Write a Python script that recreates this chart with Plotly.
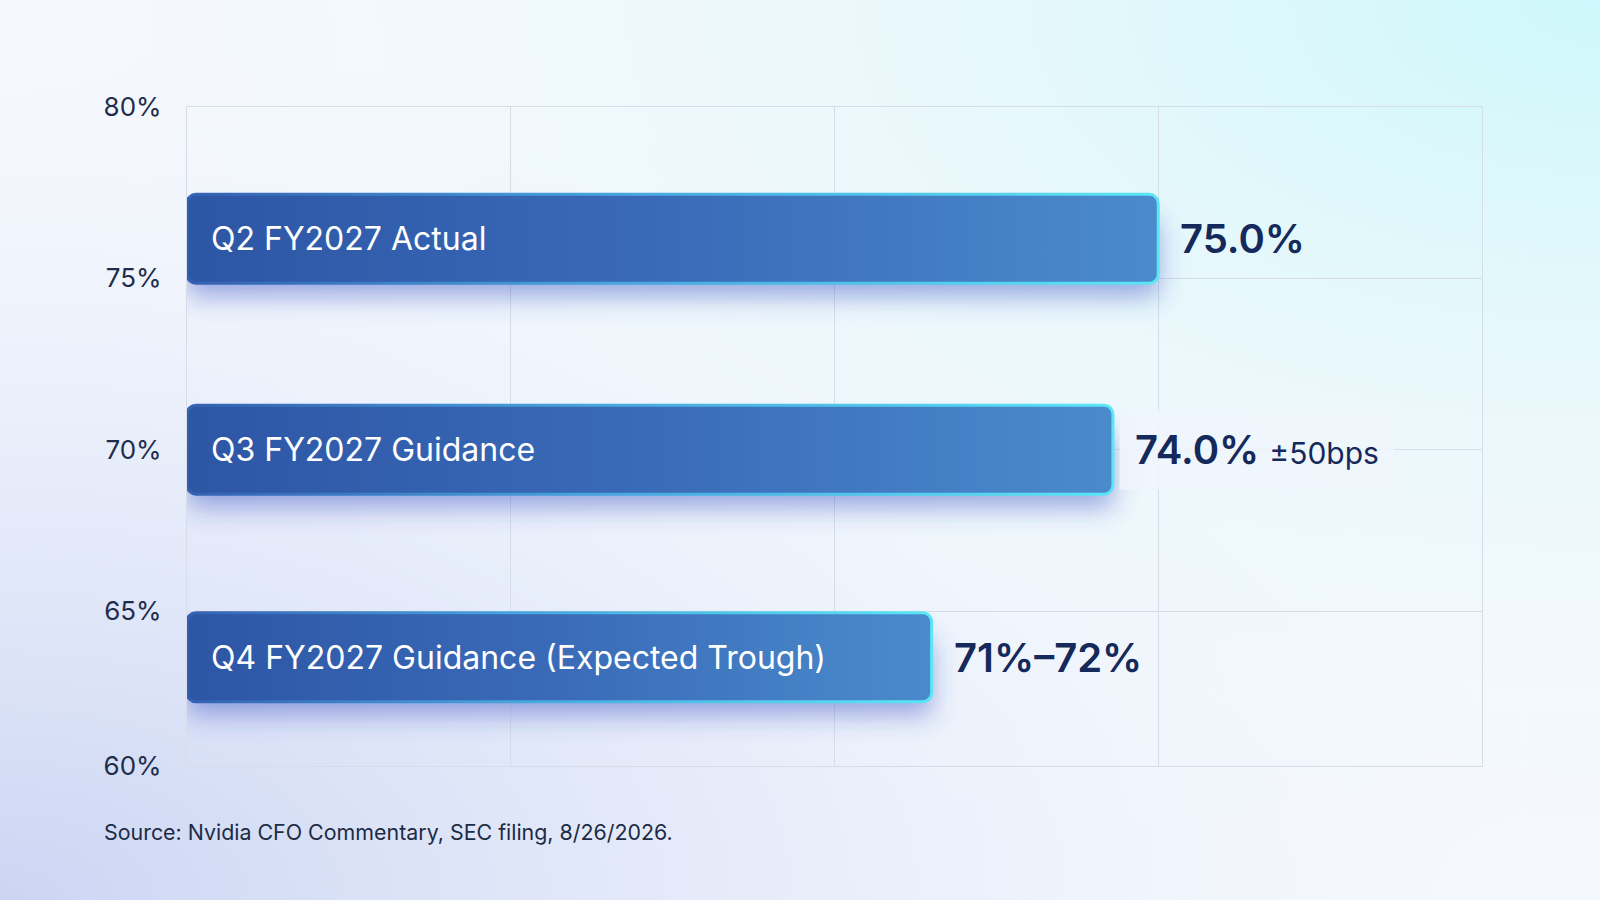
import base64
import plotly.graph_objects as go

# data
labels = ["Q2 FY2027 Actual", "Q3 FY2027 Guidance", "Q4 FY2027 Guidance (Expected Trough)"]
values = [75.0, 74.3, 71.5]
value_text = ["75.0%", "74.0%", "71%–72%"]
value_note = ["", "±50bps", ""]
bar_pos = [76.0, 69.6, 63.3]
tick_pos = [60, 64.7, 69.6, 74.8, 80]
tick_text = ["60%", "65%", "70%", "75%", "80%"]
source = "Source: Nvidia CFO Commentary, SEC filing, 8/26/2026."

W, H = 1600, 900
L, R, T, B = 187, 118, 107, 134
pw, ph = W - L - R, H - T - B
bar_w = 2.7

NAVY = "#15295a"
FONT = "Inter"

bg_svg = f"""<svg xmlns='http://www.w3.org/2000/svg' width='{W}' height='{H}' preserveAspectRatio='none'>
<defs>
<radialGradient id='a' cx='0' cy='1' r='0.95'>
<stop offset='0' stop-color='#cbd5f3' stop-opacity='1'/>
<stop offset='0.5' stop-color='#dde4f8' stop-opacity='0.6'/>
<stop offset='1' stop-color='#eef2fb' stop-opacity='0'/>
</radialGradient>
<radialGradient id='b' cx='1' cy='0' r='1.0'>
<stop offset='0' stop-color='#cdf8fb' stop-opacity='1'/>
<stop offset='0.45' stop-color='#e6f8fb' stop-opacity='0.75'/>
<stop offset='1' stop-color='#f2fafc' stop-opacity='0'/>
</radialGradient>
</defs>
<rect width='{W}' height='{H}' fill='#f5f8fd'/>
<rect width='{W}' height='{H}' fill='url(#a)'/>
<rect width='{W}' height='{H}' fill='url(#b)'/>
</svg>"""
bg_uri = "data:image/svg+xml;base64," + base64.b64encode(bg_svg.encode()).decode()

fig = go.Figure()

# shadow under the bars (blurred in post_script)
fig.add_trace(go.Bar(
    x=[v - 60 for v in values], y=[p - 0.6 for p in bar_pos], base=60,
    orientation="h", width=bar_w * 0.85,
    marker=dict(color="rgba(45,70,190,0.45)", line=dict(width=0)),
    hoverinfo="skip", showlegend=False,
))

fig.add_trace(go.Bar(
    x=[v - 60 for v in values], y=bar_pos, base=60,
    orientation="h", width=bar_w,
    marker=dict(color="#3b6bb6", line=dict(color="#58d8ef", width=3), cornerradius=9),
    hoverinfo="skip", showlegend=False,
))

for lab, p in zip(labels, bar_pos):
    fig.add_annotation(x=60, y=p, text=lab, xanchor="left", yanchor="middle",
                       xshift=22, showarrow=False,
                       font=dict(family=FONT, size=32, color="white"))

for v, p, vt, note in zip(values, bar_pos, value_text, value_note):
    txt = vt
    if note:
        txt += f" <span style='font-size:30px;font-weight:400'>{note}</span>"
    fig.add_annotation(x=v, y=p, text=txt, xanchor="left", yanchor="middle",
                       xshift=6, showarrow=False, borderpad=15,
                       bgcolor="rgba(239,245,252,0.88)" if note else None,
                       font=dict(family=FONT, size=40, color=NAVY, weight=600))

fig.add_annotation(xref="paper", yref="paper", x=(102 - L) / pw, y=-(832 - (T + ph)) / ph,
                   xanchor="left", yanchor="middle", showarrow=False, text=source,
                   font=dict(family=FONT, size=21.4, color="#1d2b45"))

grid = "#d6dde9"
fig.update_xaxes(range=[60, 80], tickvals=[60, 65, 70, 75, 80], showticklabels=False,
                 showgrid=True, gridcolor=grid, gridwidth=1.3, zeroline=False,
                 showline=True, mirror=True, linecolor=grid, linewidth=1.3, fixedrange=True)
fig.update_yaxes(range=[60, 80], tickvals=tick_pos, ticktext=tick_text,
                 showgrid=True, gridcolor=grid, gridwidth=1.3, zeroline=False,
                 showline=True, mirror=True, linecolor=grid, linewidth=1.3,
                 ticks="", ticklabelstandoff=19,
                 tickfont=dict(family=FONT, size=26, color="#1f2d4d"), fixedrange=True)

fig.update_layout(
    width=W, height=H, autosize=False,
    margin=dict(l=L, r=R, t=T, b=B),
    barmode="overlay",
    paper_bgcolor="#f5f8fd", plot_bgcolor="rgba(0,0,0,0)",
    images=[dict(source=bg_uri, xref="paper", yref="paper",
                 x=-L / pw, y=1 + T / ph, sizex=W / pw, sizey=H / ph,
                 sizing="stretch", layer="below", xanchor="left", yanchor="top")],
)

# gradient fill / glow outline on bars and a soft blur on the shadow
post = """
document.body.style.margin = '0';
var gd = document.getElementById('{plot_id}');
var ns = 'http://www.w3.org/2000/svg';
var defs = gd.querySelector('.main-svg defs');
function grad(id, stops) {
  var g = document.createElementNS(ns, 'linearGradient');
  g.setAttribute('id', id);
  g.setAttribute('x1', '0'); g.setAttribute('y1', '0');
  g.setAttribute('x2', '1'); g.setAttribute('y2', '0');
  stops.forEach(function (s) {
    var st = document.createElementNS(ns, 'stop');
    st.setAttribute('offset', s[0]); st.setAttribute('stop-color', s[1]);
    g.appendChild(st);
  });
  defs.appendChild(g);
}
grad('barfill', [[0, '#2d56a5'], [0.5, '#3a6bb8'], [1, '#4a8bcc']]);
grad('barline', [[0, '#3561b3'], [0.45, '#47a6df'], [1, '#5be6f5']]);
var f = document.createElementNS(ns, 'filter');
f.setAttribute('id', 'shadowblur');
f.setAttribute('x', '-10%'); f.setAttribute('y', '-80%');
f.setAttribute('width', '120%'); f.setAttribute('height', '260%');
var b = document.createElementNS(ns, 'feGaussianBlur');
b.setAttribute('stdDeviation', '13');
f.appendChild(b);
defs.appendChild(f);
var traces = gd.querySelectorAll('.barlayer .trace');
traces[0].setAttribute('filter', 'url(#shadowblur)');
traces[traces.length - 1].querySelectorAll('path').forEach(function (p) {
  p.style.fill = 'url(#barfill)';
  p.style.stroke = 'url(#barline)';
});
"""

fig.write_html("out.html", post_script=post, config={"displayModeBar": False})
